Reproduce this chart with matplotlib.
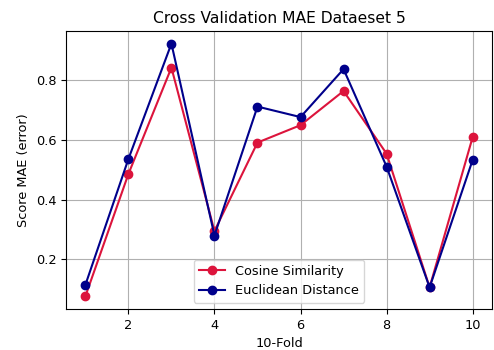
import matplotlib
matplotlib.use("Agg")
import matplotlib.pyplot as plt

folds = [1, 2, 3, 4, 5, 6, 7, 8, 9, 10]
cosine_mae = [0.077, 0.485, 0.84, 0.295, 0.59, 0.648, 0.762, 0.553, 0.107, 0.608]
euclid_mae = [0.115, 0.535, 0.92, 0.28, 0.71, 0.675, 0.835, 0.51, 0.107, 0.532]

plt.rcParams['font.size'] = 9.3

fig = plt.figure(figsize=(4.94, 3.5), dpi=100)
ax = fig.add_axes([66 / 494, 1 - 309 / 350, (492 - 66) / 494, (309 - 31) / 350])

ax.plot(folds, cosine_mae, color="crimson", marker="o", label="Cosine Similarity")
ax.plot(folds, euclid_mae, color="darkblue", marker="o", label="Euclidean Distance")

ax.set_title("Cross Validation MAE Dataeset 5")
ax.set_xlabel("10-Fold")
ax.set_ylabel("Score MAE (error)")
ax.grid(True)
ax.legend(loc="lower center")

fig.savefig("out.png", dpi=100)
